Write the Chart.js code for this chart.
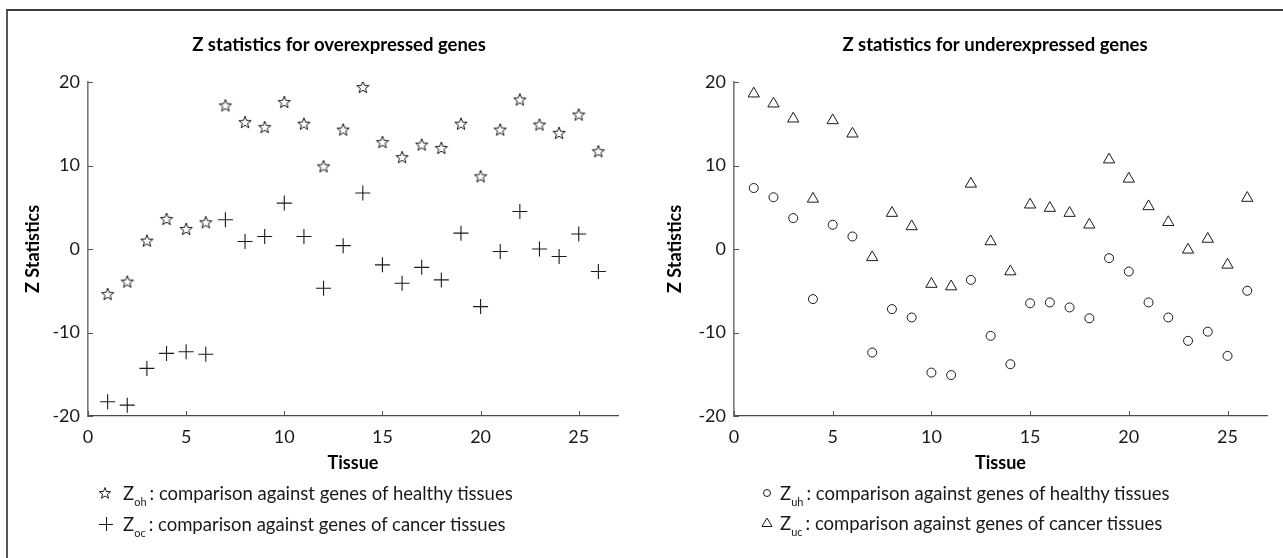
<!DOCTYPE html>
<html><head><meta charset="utf-8">
<script src="https://cdn.jsdelivr.net/npm/chart.js@4.4.1/dist/chart.umd.min.js"></script>
<style>
html,body{margin:0;padding:0;background:#fff;overflow:hidden;width:1283px;height:558px;}
#frame{position:absolute;left:6px;top:9px;width:1400px;height:700px;border-top:2px solid #3a3a3a;border-left:2px solid #555;}
canvas.chart{position:absolute;top:0;}
#c1{left:0}
#c2{left:640px}
.row{position:absolute;height:24px;line-height:24px;white-space:nowrap;display:flex;align-items:center;font-family:Lato, sans-serif;font-size:18.5px;color:#1a1a1a;}
.row canvas{display:block;}
sub{font-size:11px;vertical-align:-6px;line-height:0;margin-right:3px;}
</style></head><body>
<div id="frame"></div>
<canvas class="chart" id="c1" width="678" height="558"></canvas>
<canvas class="chart" id="c2" width="710" height="558"></canvas>

<div class="row" style="left:98px;top:481px"><canvas id="lg1" width="14" height="16" style="margin-right:11px"></canvas><span>Z<sub>oh</sub>: comparison against genes of healthy tissues</span></div>
<div class="row" style="left:98px;top:512px"><canvas id="lg2" width="16" height="16" style="margin-right:9px"></canvas><span>Z<sub>oc</sub>: comparison against genes of cancer tissues</span></div>
<div class="row" style="left:760px;top:481px"><canvas id="lg3" width="14" height="16" style="margin-right:6px"></canvas><span>Z<sub>uh</sub>: comparison against genes of healthy tissues</span></div>
<div class="row" style="left:760px;top:511px"><canvas id="lg4" width="14" height="16" style="margin-right:6px"></canvas><span>Z<sub>uc</sub>: comparison against genes of cancer tissues</span></div>

<script>
// ---- data ----
const tissues = [1,2,3,4,5,6,7,8,9,10,11,12,13,14,15,16,17,18,19,20,21,22,23,24,25,26];
const zOh = [-5.4,-3.9,1.0,3.6,2.4,3.2,17.2,15.2,14.6,17.6,15.0,9.9,14.3,19.4,12.8,11.0,12.5,12.1,15.0,8.7,14.3,17.9,14.9,13.9,16.1,11.7];
const zOc = [-18.3,-18.7,-14.3,-12.5,-12.3,-12.6,3.5,0.9,1.5,5.5,1.5,-4.7,0.4,6.7,-1.9,-4.1,-2.2,-3.7,1.9,-6.9,-0.3,4.5,0.0,-0.9,1.8,-2.7];
const zUh = [7.3,6.2,3.7,-6.0,2.9,1.5,-12.4,-7.2,-8.2,-14.8,-15.1,-3.7,-10.4,-13.8,-6.5,-6.4,-7.0,-8.3,-1.1,-2.7,-6.4,-8.2,-11.0,-9.9,-12.8,-5.0];
const zUc = [18.6,17.4,15.6,6.0,15.4,13.8,-1.0,4.3,2.7,-4.2,-4.5,7.8,0.9,-2.7,5.3,4.9,4.3,2.9,10.7,8.4,5.1,3.2,-0.1,1.2,-1.9,6.1];
const xTicks = [0,5,10,15,20,25];
const yTicks = [-20,-10,0,10,20];
const xRange = [0,27];
const yRange = [-20,20];
const titles = ['Z statistics for overexpressed genes','Z statistics for underexpressed genes'];
const xTitle = 'Tissue';
const yTitle = 'Z Statistics';

const INK = '#1a1a1a';
Chart.defaults.font.family = 'Lato, sans-serif';
Chart.defaults.color = INK;

function starPath(ctx, cx, cy, ro, ri){
  ctx.beginPath();
  for(let i=0;i<10;i++){
    const r = i%2===0 ? ro : ri;
    const a = -Math.PI/2 + i*Math.PI/5;
    const px = cx + r*Math.cos(a), py = cy + r*Math.sin(a);
    if(i===0) ctx.moveTo(px,py); else ctx.lineTo(px,py);
  }
  ctx.closePath();
}
function makeStar(){
  const c = document.createElement('canvas'); c.width=16; c.height=16;
  const g = c.getContext('2d');
  g.strokeStyle = INK; g.lineWidth = 1; g.fillStyle='#fff';
  starPath(g, 8, 8.5, 6.5, 2.7); g.fill(); g.stroke();
  return c;
}
const starImg = makeStar();

const inwardTicks = {
  id:'inwardTicks',
  afterDraw(chart){
    const {ctx, chartArea:a, scales:{x,y}} = chart;
    ctx.save(); ctx.strokeStyle='#555'; ctx.lineWidth=1;
    ctx.beginPath();
    x.ticks.forEach(t=>{const px=Math.round(x.getPixelForValue(t.value))+0.5; ctx.moveTo(px,a.bottom); ctx.lineTo(px,a.bottom-5);});
    y.ticks.forEach(t=>{const py=Math.round(y.getPixelForValue(t.value))+0.5; ctx.moveTo(a.left,py); ctx.lineTo(a.left+5,py);});
    ctx.stroke(); ctx.restore();
  }
};

function ds(vals, style, radius, width){
  return {
    data: tissues.map((t,i)=>({x:t, y:vals[i]})),
    showLine:false, pointStyle: style, pointRadius: radius, pointHoverRadius: radius,
    pointBorderColor: INK, pointBackgroundColor: '#fff', pointBorderWidth: width
  };
}

function makeChart(id, title, datasets, yWidth, rightWidth, yTitlePad){
  return new Chart(document.getElementById(id), {
    type:'scatter',
    data:{datasets},
    plugins:[inwardTicks],
    options:{
      responsive:false, animation:false, devicePixelRatio:1,
      layout:{padding:{left:0,right:0,top:0,bottom:84}},
      plugins:{
        legend:{display:false}, tooltip:{enabled:false},
        title:{display:true, text:title, font:{size:18.5, weight:'bold'}, color:'#000', padding:{top:34, bottom:25.8}}
      },
      scales:{
        x:{type:'linear', min:xRange[0], max:xRange[1],
           afterBuildTicks:s=>{s.ticks = xTicks.map(v=>({value:v}));},
           afterFit:s=>{s.height = 58;},
           grid:{display:false, drawTicks:false},
           border:{display:true, color:'#4a4a4a', width:1.2},
           ticks:{font:{size:18}, padding:10, color:INK, maxRotation:0},
           title:{display:true, text:xTitle, font:{size:18, weight:'bold'}, color:'#000', padding:{top:0,bottom:0}}
        },
        y:{type:'linear', min:yRange[0], max:yRange[1],
           afterBuildTicks:s=>{s.ticks = yTicks.map(v=>({value:v}));},
           afterFit:s=>{s.width = yWidth;},
           grid:{display:false, drawTicks:false},
           border:{display:true, color:'#777', width:1.6},
           ticks:{font:{size:18}, padding:8, color:INK},
           title:{display:true, text:yTitle, font:{size:18, weight:'bold'}, color:'#000', padding:{top:yTitlePad,bottom:0}}
        },
        pad:{type:'linear', position:'right', display:true,
           afterFit:s=>{s.width = rightWidth;},
           grid:{display:false, drawTicks:false}, border:{display:false},
           ticks:{display:false}}
      }
    }
  });
}

makeChart('c1', titles[0], [ds(zOh, starImg, 6, 1), ds(zOc, 'cross', 7.5, 1.1)], 88, 60, 22);
makeChart('c2', titles[1], [ds(zUh, 'circle', 4.5, 1), ds(zUc, 'triangle', 6.5, 1)], 94, 83, 24);

function lg(id, fn){ const c=document.getElementById(id); const g=c.getContext('2d'); g.strokeStyle=INK; g.lineWidth=1; g.fillStyle='#fff'; fn(g,c); }
lg('lg1',(g,c)=>{starPath(g,7,8.5,6,2.5); g.fill(); g.stroke();});
lg('lg2',(g,c)=>{g.beginPath(); g.moveTo(1,8.5); g.lineTo(15,8.5); g.moveTo(8.5,1); g.lineTo(8.5,15); g.stroke();});
lg('lg3',(g,c)=>{g.beginPath(); g.arc(7,8,3.5,0,Math.PI*2); g.stroke();});
lg('lg4',(g,c)=>{g.beginPath(); g.moveTo(7,3); g.lineTo(12,11.5); g.lineTo(2,11.5); g.closePath(); g.stroke();});
</script>
</body></html>
